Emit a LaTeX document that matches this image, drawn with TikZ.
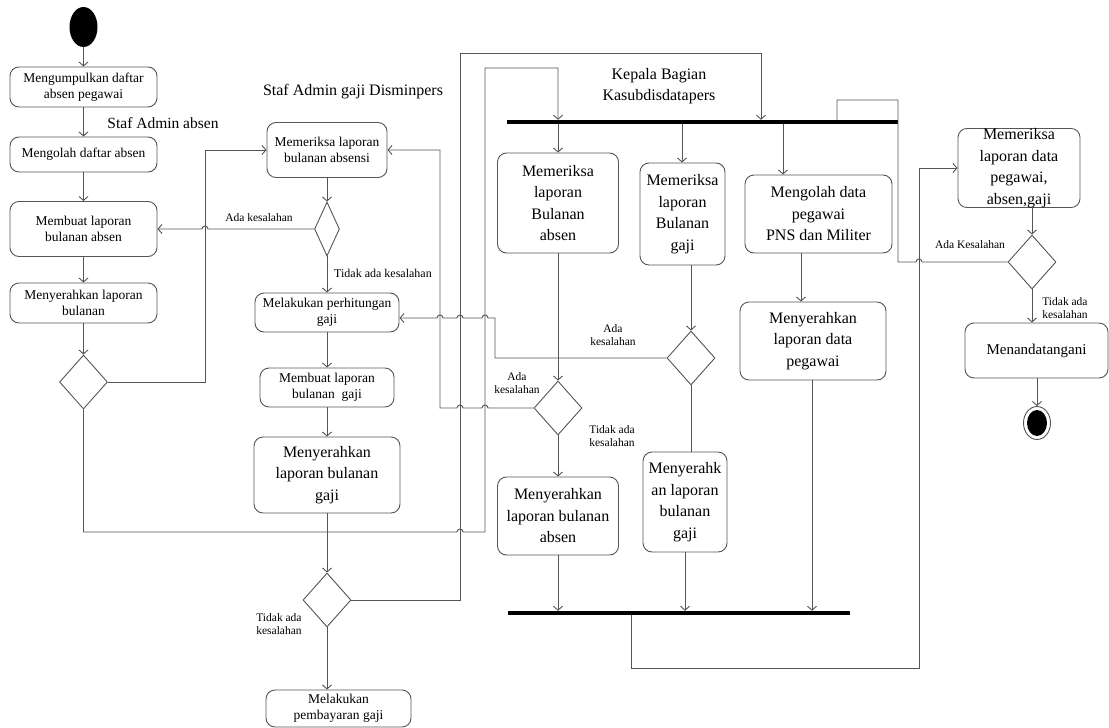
\documentclass[tikz,border=0pt]{standalone}
\usepackage{fontspec}
\setmainfont{Liberation Serif}
\usetikzlibrary{shapes.geometric,arrows.meta,calc}
\definecolor{linec}{HTML}{555555}
\newcommand\fsA{\fontsize{13.5}{16.5}\selectfont}
\newcommand\fsB{\fontsize{16}{21.5}\selectfont}
\newcommand\fsL{\fontsize{11.5}{13.5}\selectfont}
\tikzset{
  box/.style={draw=linec, line width=0.9pt, rounded corners=9pt, inner sep=0pt, align=center, text=black},
  dec/.style={draw=linec, line width=0.9pt, diamond, inner sep=0pt},
  barnode/.style={fill=black, inner sep=0pt, minimum height=4pt},
  lbl/.style={font=\fsL, inner sep=0pt, align=center},
  con/.style={draw=linec, line width=0.9pt},
  arr/.style={con, -{Straight Barb[length=4pt,width=9pt]}},
}
\begin{document}
\begin{tikzpicture}[x=1pt,y=-1pt]
\useasboundingbox (0,0) rectangle (1109,728);
% ---------- Staf Admin absen ----------
\node[fill=black, ellipse, minimum width=28pt, minimum height=40pt, inner sep=0pt] (start) at (83.5,27) {};
\node[box, font=\fsA, minimum width=147pt, minimum height=40pt] (a1) at (83.5,87) {Mengumpulkan daftar\\absen pegawai};
\node[box, font=\fsA, minimum width=147pt, minimum height=35pt] (a2) at (83.5,154.5) {Mengolah daftar absen};
\node[box, font=\fsA, minimum width=147pt, minimum height=55pt] (a3) at (83.5,229) {Membuat laporan\\bulanan absen};
\node[box, font=\fsA, minimum width=147pt, minimum height=40pt] (a4) at (83.5,303) {Menyerahkan laporan\\bulanan};
\node[dec, minimum width=48pt, minimum height=54pt] (d1) at (83.5,382) {};
\node[font=\fontsize{15.5}{18}\selectfont, inner sep=0pt] (lA) at (163,123) {Staf Admin absen};
% ---------- Staf Admin gaji ----------
\node[font=\fontsize{16}{19}\selectfont, inner sep=0pt] (lB) at (353,92) {Staf Admin gaji Disminpers};
\node[box, font=\fsA, minimum width=120pt, minimum height=55pt] (b1) at (327,150) {Memeriksa laporan\\bulanan absensi};
\node[dec, minimum width=25pt, minimum height=54pt] (d2) at (327,229) {};
\node[box, font=\fsA, minimum width=144pt, minimum height=39pt] (b2) at (327,312.5) {Melakukan perhitungan\\gaji};
\node[box, font=\fsA, minimum width=134pt, minimum height=39pt] (b3) at (327,387.5) {Membuat laporan\\bulanan\ \ gaji};
\node[box, font=\fsB, minimum width=146pt, minimum height=76pt] (b4) at (327,475) {Menyerahkan\\laporan bulanan\\gaji};
\node[dec, minimum width=48pt, minimum height=54pt] (d3) at (327,600) {};
\node[box, font=\fsA, minimum width=145pt, minimum height=37pt] (b5) at (338.5,708.5) {Melakukan\\pembayaran gaji};
% ---------- Kepala Bagian ----------
\node[font=\fsB, align=center, inner sep=0pt] (lC) at (659,86) {Kepala Bagian\\Kasubdisdatapers};
\node[barnode, minimum width=391pt] (bar1) at (702.5,122) {};
\node[box, font=\fsB, minimum width=121pt, minimum height=100pt] (c1) at (558,203) {Memeriksa\\laporan\\Bulanan\\absen};
\node[box, font=\fsB, minimum width=85pt, minimum height=102pt] (c2) at (682.5,214) {Memeriksa\\laporan\\Bulanan\\gaji};
\node[box, font=\fsB, minimum width=147pt, minimum height=78pt] (c3) at (818.5,214) {Mengolah data\\pegawai\\PNS dan Militer};
\node[box, font=\fsB, minimum width=146pt, minimum height=78pt] (c4) at (813,341) {Menyerahkan\\laporan data\\pegawai};
\node[dec, minimum width=48pt, minimum height=54pt] (d5) at (558,408) {};
\node[dec, minimum width=48pt, minimum height=54pt] (d6) at (691,358) {};
\node[box, font=\fsB, minimum width=121pt, minimum height=78pt] (c5) at (558,516) {Menyerahkan\\laporan bulanan\\absen};
\node[box, font=\fsB, minimum width=84pt, minimum height=100pt] (c6) at (685,502) {Menyerahk\\an laporan\\bulanan\\gaji};
\node[barnode, minimum width=342pt] (bar2) at (679,613) {};
% ---------- right column ----------
\node[box, font=\fsB, minimum width=122pt, minimum height=79pt] (e1) at (1019,168) {Memeriksa\\laporan data\\pegawai,\\absen,gaji};
\node[dec, minimum width=48pt, minimum height=54pt] (d8) at (1032,262) {};
\node[box, font=\fontsize{15}{18}\selectfont, minimum width=143pt, minimum height=55pt] (e2) at (1036.5,350.5) {Menandatangani};
\node[draw=linec, line width=0.9pt, ellipse, minimum width=27pt, minimum height=33pt, inner sep=0pt] (fin) at (1037,423) {};
\node[fill=black, ellipse, minimum width=20pt, minimum height=26pt, inner sep=0pt] (fincore) at (fin.center) {};
% ---------- labels ----------
\node[lbl] (l1) at (259,218) {Ada kesalahan};
\node[lbl, font=\fontsize{12}{14}\selectfont] (l2) at (383,273) {Tidak ada kesalahan};
\node[lbl, align=left] (l3) at (279,624) {Tidak ada\\kesalahan};
\node[lbl] (l4) at (613,335) {Ada\\kesalahan};
\node[lbl] (l5) at (517,383) {Ada\\kesalahan};
\node[lbl] (l6) at (612,436) {Tidak ada\\kesalahan};
\node[lbl] (l7) at (970,245) {Ada Kesalahan};
\node[lbl, align=left] (l8) at (1065,308) {Tidak ada\\kesalahan};
% ---------- connectors: column A ----------
\draw[arr] (start.south) -- (a1.north);
\draw[arr] (a1.south) -- (a2.north);
\draw[arr] (a2.south) -- (a3.north);
\draw[arr] (a3.south) -- (a4.north);
\draw[arr] (a4.south) -- (d1.north);
\draw[arr] (d1.east) -- (205,382) -- (205,150) -- (b1.west);
\draw[arr] (d1.south) -- (83.5,532) -- (457,532) arc[start angle=-180,end angle=0,radius=3] -- (485,532) -- (485,68) -- (558,68) -- (558,68 |- bar1.north);
% ---------- column B ----------
\draw[arr] (b1.south) -- (d2.north);
\draw[arr] (d2.west) -- (208,229) arc[start angle=0,end angle=-180,radius=3] -- (a3.east);
\draw[arr] (d2.south) -- (b2.north);
\draw[arr] (b2.south) -- (b3.north);
\draw[arr] (b3.south) -- (b4.north);
\draw[arr] (b4.south) -- (d3.north);
\draw[arr] (d3.south) -- (d3.south |- b5.north);
\draw[arr] (d3.east) -- (460,600) -- (460,53) -- (761,53) -- (761,53 |- bar1.north);
% ---------- column C ----------
\draw[arr] (558,122 |- bar1.south) -- (c1.north);
\draw[arr] (682,122 |- bar1.south) -- (682,122 |- c2.north);
\draw[arr] (783,122 |- bar1.south) -- (783,122 |- c3.north);
\draw[arr] (c1.south) -- (d5.north);
\draw[arr] (d5.south) -- (c5.north);
\draw[arr] (c5.south) -- (558,600 |- bar2.north);
\draw[arr] (d5.west) -- (488,408) arc[start angle=0,end angle=-180,radius=3] -- (463,408) arc[start angle=0,end angle=-180,radius=3] -- (440,408) -- (440,150) -- (b1.east);
\draw[arr] (691,300 |- c2.south) -- (d6.north);
\draw[con] (d6.south) -- (691,400 |- c6.north);
\draw[arr] (685,560 |- c6.south) -- (685,600 |- bar2.north);
\draw[arr] (d6.west) -- (495,358) -- (495,318) -- (488,318) arc[start angle=0,end angle=-180,radius=3] -- (463,318) arc[start angle=0,end angle=-180,radius=3] -- (443,318) arc[start angle=0,end angle=-180,radius=3] -- (b2.east |- 400,318);
\draw[arr] (801,260 |- c3.south) -- (801,300 |- c4.north);
\draw[arr] (812,380 |- c4.south) -- (812,600 |- bar2.north);
\draw[arr] (631,613 |- bar2.south) -- (631,668) -- (919,668) -- (919,168) -- (e1.west);
% ---------- right column ----------
\draw[arr] (1032,200 |- e1.south) -- (d8.north);
\draw[arr] (d8.south) -- (1032,300 |- e2.north);
\draw[arr] (1037,380 |- e2.south) -- (fin.north);
\draw[con] (d8.west) -- (922,262) arc[start angle=0,end angle=-180,radius=3] -- (898,262) -- (898,100) -- (837,100) -- (837,100 |- bar1.north);
\end{tikzpicture}
\end{document}
